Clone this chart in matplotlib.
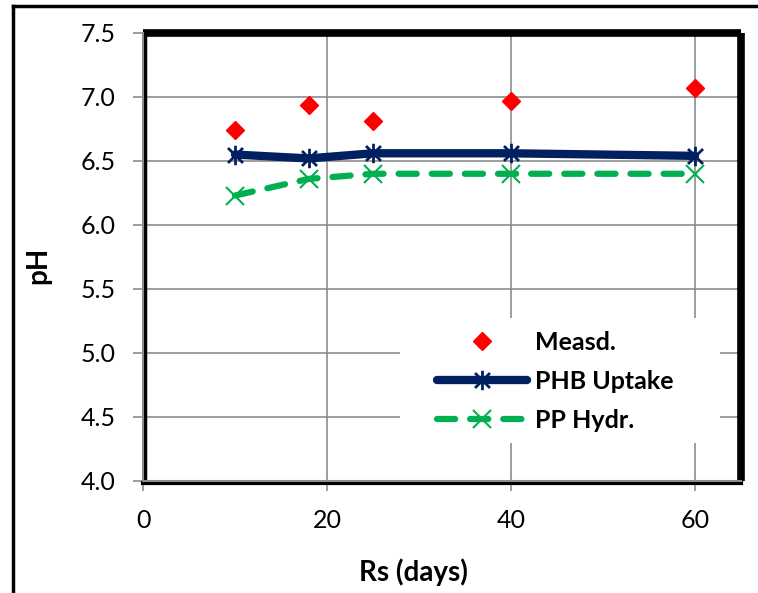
import matplotlib.pyplot as plt
from matplotlib.lines import Line2D
from matplotlib.patches import Rectangle
from matplotlib.path import Path

plt.rcParams["font.family"] = ["Lato", "DejaVu Sans"]

# 数据
rs_days = [10, 18, 25, 40, 60]
ph_measd = [6.74, 6.94, 6.81, 6.97, 7.07]
ph_phb = [6.55, 6.52, 6.56, 6.56, 6.54]
ph_pp = [6.23, 6.36, 6.40, 6.40, 6.40]

x_ticks = [0, 20, 40, 60]
y_ticks = [4.0, 4.5, 5.0, 5.5, 6.0, 6.5, 7.0, 7.5]

# Excel 风格星号标记: X 加竖线
star_marker = Path(
    [(-1, -1), (1, 1), (-1, 1), (1, -1), (0, -1.3), (0, 1.3)],
    [Path.MOVETO, Path.LINETO, Path.MOVETO, Path.LINETO, Path.MOVETO, Path.LINETO],
)

fig = plt.figure(figsize=(7.58, 5.93), dpi=100)
ax = fig.add_axes([0.1887, 0.1889, 0.7889, 0.7555])
ax.set_xlim(0, 65)
ax.set_ylim(4.0, 7.5)

ax.set_xticks(x_ticks)
ax.set_yticks(y_ticks)
ax.set_yticklabels([f"{v:.1f}" for v in y_ticks])
ax.grid(True, color="#8c8c8c", linewidth=1.2, zorder=0)
ax.set_axisbelow(True)
ax.tick_params(axis="both", direction="out", length=7, width=1.2,
               color="#8c8c8c", labelsize=18, pad=13)

for side in ["top", "right"]:
    ax.spines[side].set_visible(False)
for side in ["left", "bottom"]:
    ax.spines[side].set_color("#8c8c8c")
    ax.spines[side].set_linewidth(1.5)
    ax.spines[side].set_zorder(6)

# 粗黑边框
ax.add_line(Line2D([0, 1], [1, 1], transform=ax.transAxes, color="black",
                   lw=5.5, clip_on=False, zorder=5, solid_capstyle="butt"))
ax.add_line(Line2D([1, 1], [0, 1], transform=ax.transAxes, color="black",
                   lw=5.5, clip_on=False, zorder=5, solid_capstyle="butt"))
ax.add_line(Line2D([0.004, 0.004], [0, 1], transform=ax.transAxes, color="black",
                   lw=2.5, clip_on=False, zorder=5))
ax.add_line(Line2D([0, 1], [-0.004, -0.004], transform=ax.transAxes, color="black",
                   lw=3, clip_on=False, zorder=5))

# 图例背景
ax.add_patch(Rectangle((0.43, 0.085), 0.535, 0.279, transform=ax.transAxes,
                       facecolor="white", edgecolor="none", zorder=1.5))

ax.plot(rs_days, ph_phb, color="#002060", lw=6, marker=star_marker,
        markersize=14, markeredgewidth=2, label="PHB Uptake", zorder=3,
        solid_capstyle="round")
ax.plot(rs_days, ph_pp, color="#00B050", lw=4.5, dashes=(2.9, 2.4),
        dash_capstyle="round", marker="x", markersize=13,
        markeredgewidth=1.5, label="PP Hydr.", zorder=3)
ax.plot(rs_days, ph_measd, linestyle="none", marker="D", color="red",
        markersize=9, label="Measd.", zorder=4)

handles, labels = ax.get_legend_handles_labels()
order = [2, 0, 1]
ax.legend([handles[i] for i in order], [labels[i] for i in order],
          loc="upper left", bbox_to_anchor=(0.4916, 0.335), frameon=False,
          borderaxespad=0, borderpad=0, handlelength=3.6, handletextpad=0.32,
          labelspacing=0.64, prop={"size": 18, "weight": "bold"})

ax.set_xlabel("Rs (days)", fontsize=20, fontweight="bold")
ax.xaxis.set_label_coords((413 - 143) / 598, (481 - 558) / 448)
ax.set_ylabel("pH", fontsize=20, fontweight="bold")
ax.yaxis.set_label_coords((51 - 143) / 598, (481 - 265) / 448)

# 外框
fig.add_artist(Line2D([13 / 758, 1], [1 - 6 / 593, 1 - 6 / 593],
                      transform=fig.transFigure, color="black", lw=2.5))
fig.add_artist(Line2D([13 / 758, 13 / 758], [0, 1 - 6 / 593],
                      transform=fig.transFigure, color="black", lw=2.5))

fig.savefig("out.png", dpi=100)
